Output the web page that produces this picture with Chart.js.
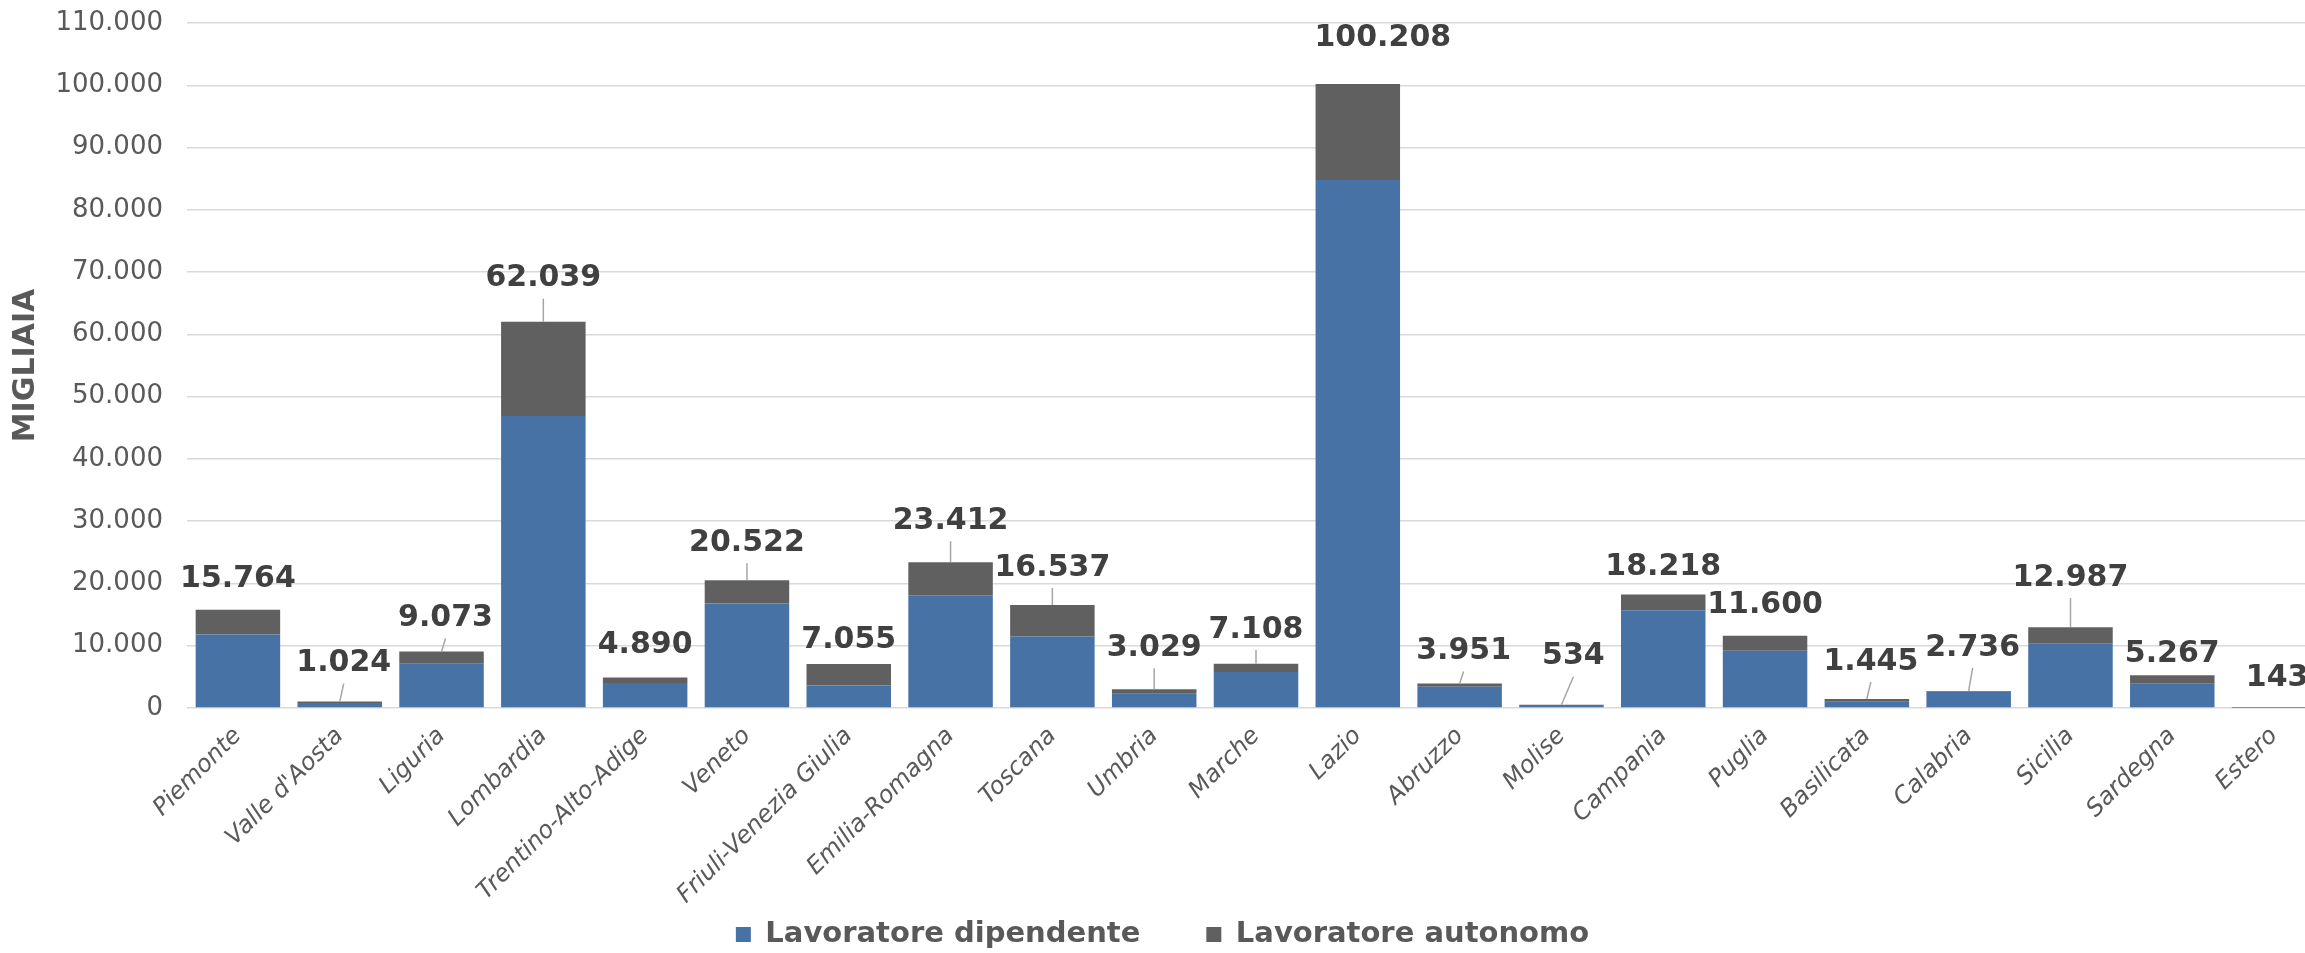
<!DOCTYPE html>
<html lang="it">
<head>
<meta charset="utf-8">
<script src="https://cdn.jsdelivr.net/npm/chart.js@4.4.1/dist/chart.umd.min.js"></script>
<style>
  html, body { margin: 0; padding: 0; background: #fff; overflow: hidden; }
  canvas { display: block; }
</style>
</head>
<body>
<canvas id="regioniChart" width="2346" height="953"></canvas>
<script>
const regioni = ['Piemonte', "Valle d'Aosta", 'Liguria', 'Lombardia', 'Trentino-Alto-Adige', 'Veneto',
    'Friuli-Venezia Giulia', 'Emilia-Romagna', 'Toscana', 'Umbria', 'Marche', 'Lazio', 'Abruzzo',
    'Molise', 'Campania', 'Puglia', 'Basilicata', 'Calabria', 'Sicilia', 'Sardegna', 'Estero'];

const dipendenti = [11800, 800, 7100, 46900, 4000, 16800, 3600, 18100, 11500, 2300, 5800,
    84800, 3400, 470, 15700, 9200, 1000, 2600, 10300, 3900, 100];
const autonomi = [3964, 224, 1973, 15139, 890, 3722, 3455, 5312, 5037, 729, 1308,
    15408, 551, 64, 2518, 2400, 445, 136, 2687, 1367, 43];

const yTickValues = [0, 10000, 20000, 30000, 40000, 50000, 60000, 70000, 80000, 90000, 100000, 110000];

// where each total label sits: px above the bar top, px to the right, and whether it has a leader line
const labelLift = [31, 38, 33, 43, 32, 37, 24, 41, 37, 41, 34, 46, 32, 48, 27, 31, 37, 43, 49, 21, 29];
const labelShift = [0, 4, 4, 0, 0, 0, 0, 0, 0, 0, 0, 25, 4, 12, 0, 0, 4, 4, 0, 0, 3];
const leaderLine = [false, true, true, true, false, true, false, true, true, true, true, false,
    true, true, false, false, true, true, true, false, false];

const FONT = '"DejaVu Sans", Verdana, sans-serif';

function puntini(v) {
    return String(v).replace(/\B(?=(\d{3})+(?!\d))/g, '.');
}

const totalLabels = {
    id: 'totalLabels',
    // the x scale clips its labels to its own box, let them run down to the legend
    afterLayout(chart) {
        chart.scales.x.bottom = chart.height;
    },
    afterDatasetsDraw(chart) {
        const ctx = chart.ctx;
        const y = chart.scales.y;
        const bars = chart.getDatasetMeta(1).data;
        ctx.save();
        ctx.font = 'bold 30px ' + FONT;
        ctx.fillStyle = '#404040';
        ctx.textAlign = 'center';
        ctx.textBaseline = 'middle';
        regioni.forEach((r, i) => {
            const total = dipendenti[i] + autonomi[i];
            const top = y.getPixelForValue(total);
            const bx = bars[i].x;
            const lx = bx + labelShift[i];
            const ly = top - labelLift[i];
            if (leaderLine[i]) {
                ctx.strokeStyle = '#a6a6a6';
                ctx.lineWidth = 1.5;
                ctx.beginPath();
                ctx.moveTo(lx, ly + 20);
                ctx.lineTo(bx, top);
                ctx.stroke();
            }
            ctx.fillText(puntini(total), lx, ly);
        });
        ctx.restore();
    }
};

const ctx = document.getElementById('regioniChart').getContext('2d');
new Chart(ctx, {
    type: 'bar',
    data: {
        labels: regioni,
        datasets: [{
            label: 'Lavoratore dipendente',
            data: dipendenti,
            backgroundColor: '#4672a6',
            borderWidth: 0
        }, {
            label: 'Lavoratore autonomo',
            data: autonomi,
            backgroundColor: '#606060',
            borderWidth: 0
        }]
    },
    options: {
        responsive: false,
        animation: false,
        events: [],
        layout: { padding: { top: 23, right: 21, bottom: -6, left: 0 } },
        plugins: {
            legend: {
                position: 'bottom',
                labels: {
                    boxWidth: 15,
                    boxHeight: 15,
                    padding: 66,
                    color: '#595959',
                    font: { family: FONT, size: 29, weight: 'bold' }
                }
            },
            tooltip: { enabled: false }
        },
        datasets: { bar: { categoryPercentage: 1, barPercentage: 0.83 } },
        scales: {
            x: {
                stacked: true,
                grid: { display: false, drawTicks: false },
                border: { display: false },
                afterFit: (scale) => { scale.height = 146; },
                ticks: {
                    autoSkip: false,
                    maxRotation: 45,
                    minRotation: 45,
                    padding: 14,
                    color: '#595959',
                    font: { family: FONT, size: 24, style: 'italic' }
                }
            },
            y: {
                stacked: true,
                min: 0,
                max: 110000,
                afterFit: (scale) => {
                    scale.width = 187;
                    scale.paddingTop = 0;
                    scale.paddingBottom = 0;
                },
                afterBuildTicks: (scale) => { scale.ticks = yTickValues.map(v => ({ value: v })); },
                grid: { color: '#d9d9d9', lineWidth: 1.5, drawTicks: false },
                border: { display: false },
                ticks: {
                    padding: 24,
                    color: '#595959',
                    font: { family: FONT, size: 26 },
                    callback: (v) => puntini(v)
                },
                title: {
                    display: true,
                    text: 'MIGLIAIA',
                    color: '#595959',
                    padding: { top: 8, bottom: 0 },
                    font: { family: FONT, size: 30, weight: 'bold' }
                }
            }
        }
    },
    plugins: [totalLabels]
});
</script>
</body>
</html>
